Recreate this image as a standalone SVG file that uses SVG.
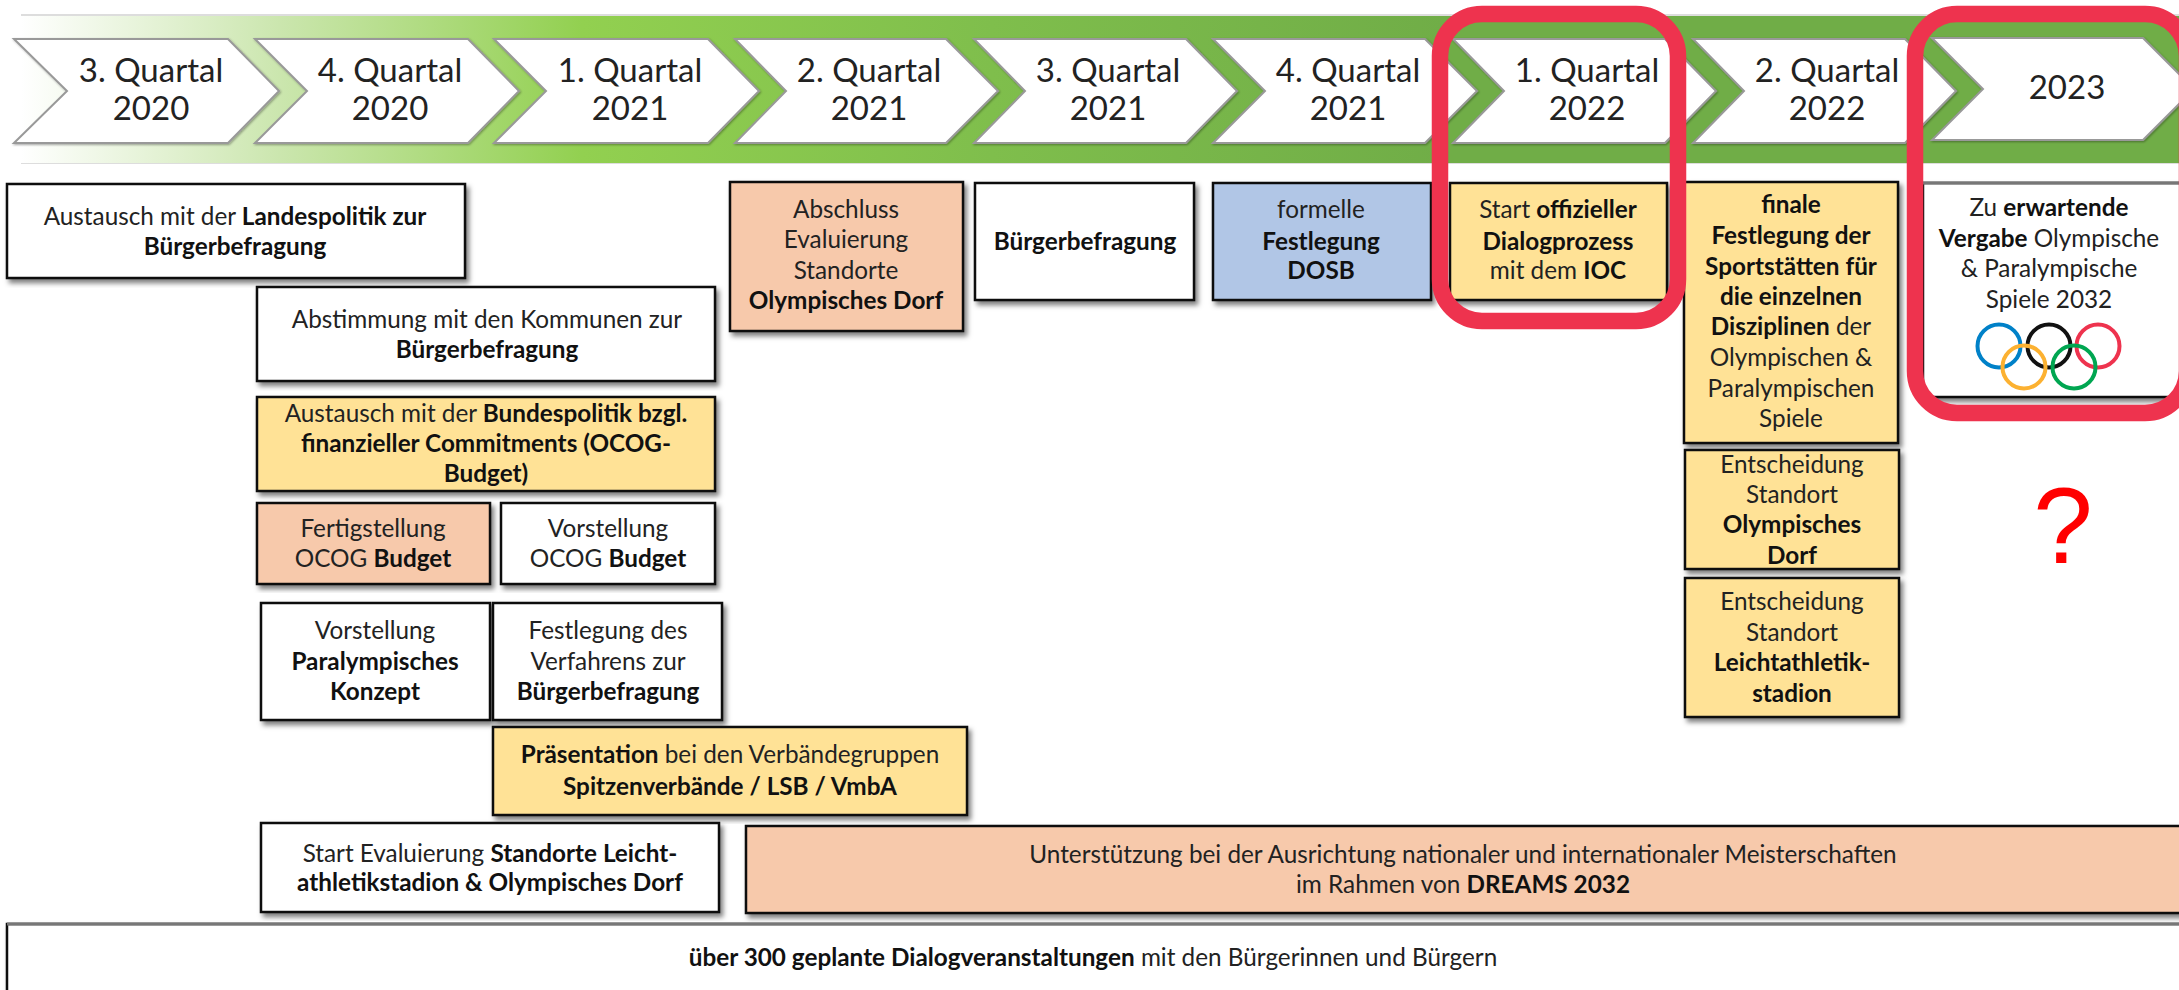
<svg xmlns="http://www.w3.org/2000/svg" width="2179" height="990" viewBox="0 0 2179 990">
<style>
text{font-family:"Lato","Liberation Sans",sans-serif;fill:#222;text-anchor:middle;font-size:24.3px}
.b{font-weight:700;fill:#111}
.q{font-size:33px}
.box{stroke:#111;stroke-width:2.5;filter:url(#sh)}
.w{fill:#fff}.y{fill:#FFE296}.o{fill:#F7C9AB}.bl{fill:#B1C6E6}
.ch{fill:#fff;stroke:#999;stroke-width:2;filter:url(#sh2)}
.ring{fill:none;stroke-width:4}
.red{fill:none;stroke:#EE334E;stroke-width:16.5}
.top{stroke:#777;stroke-width:3}
</style>
<defs>
<linearGradient id="band" gradientUnits="userSpaceOnUse" x1="21" y1="0" x2="2179" y2="0">
<stop offset="0" stop-color="#fff"/>
<stop offset="0.12" stop-color="#CBE6AE"/>
<stop offset="0.26" stop-color="#92D050"/>
<stop offset="0.45" stop-color="#7FBE4C"/>
<stop offset="0.66" stop-color="#70AD47"/>
<stop offset="1" stop-color="#70AD47"/>
</linearGradient>
<filter id="sh" x="-5%" y="-5%" width="112%" height="115%"><feDropShadow dx="3" dy="4" stdDeviation="2.5" flood-color="#000" flood-opacity=".5"/></filter>
<filter id="sh2" x="-5%" y="-5%" width="110%" height="110%"><feDropShadow dx="1" dy="1" stdDeviation="1.2" flood-color="#000" flood-opacity=".35"/></filter>
</defs>
<rect id="band-shadow" x="21" y="14" width="2158" height="150" fill="#bbb" opacity=".5"/>
<rect id="band-bar" x="21" y="16" width="2158" height="147" fill="url(#band)"/>
<g id="chevrons">
<g id="q3-2020"><polygon class="ch" points="14,39 228,39 279,91 228,143 14,143 67,91"/><text class="q" x="151" y="82">3. Quartal</text><text class="q" x="151" y="120">2020</text></g>
<g id="q4-2020"><polygon class="ch" points="255,39 468,39 519,91 468,143 255,143 307,91"/><text class="q" x="390" y="82">4. Quartal</text><text class="q" x="390" y="120">2020</text></g>
<g id="q1-2021"><polygon class="ch" points="494,39 708,39 759,91 708,143 494,143 546,91"/><text class="q" x="630" y="82">1. Quartal</text><text class="q" x="630" y="120">2021</text></g>
<g id="q2-2021"><polygon class="ch" points="735,39 946,39 998,91 946,143 735,143 786,91"/><text class="q" x="869" y="82">2. Quartal</text><text class="q" x="869" y="120">2021</text></g>
<g id="q3-2021"><polygon class="ch" points="974,39 1186,39 1237,91 1186,143 974,143 1025,91"/><text class="q" x="1108" y="82">3. Quartal</text><text class="q" x="1108" y="120">2021</text></g>
<g id="q4-2021"><polygon class="ch" points="1213,39 1425,39 1477,91 1425,143 1213,143 1265,91"/><text class="q" x="1348" y="82">4. Quartal</text><text class="q" x="1348" y="120">2021</text></g>
<g id="q1-2022"><polygon class="ch" points="1453,39 1665,39 1716,91 1665,143 1453,143 1504,91"/><text class="q" x="1587" y="82">1. Quartal</text><text class="q" x="1587" y="120">2022</text></g>
<g id="q2-2022"><polygon class="ch" points="1693,39 1905,39 1956,91 1905,143 1693,143 1744,91"/><text class="q" x="1827" y="82">2. Quartal</text><text class="q" x="1827" y="120">2022</text></g>
<g id="y-2023"><polygon class="ch" points="1932,38 2143,38 2194,89 2143,140 1932,140 1983,89"/><text class="q" x="2067" y="99">2023</text></g>
</g>
<g id="n-landespolitik"><rect class="box w" x="7" y="184" width="458" height="94"/><text x="235" y="225">Austausch mit der <tspan class="b">Landespolitik zur</tspan></text><text x="235" y="255" class="b">Bürgerbefragung</text></g>
<g id="n-kommunen"><rect class="box w" x="257" y="287" width="458" height="94"/><text x="487" y="328">Abstimmung mit den Kommunen zur</text><text x="487" y="358" class="b">Bürgerbefragung</text></g>
<g id="n-bundespolitik"><rect class="box y" x="257" y="397" width="458" height="94"/><text x="486" y="422">Austausch mit der <tspan class="b">Bundespolitik bzgl.</tspan></text><text x="486" y="452" class="b">finanzieller Commitments (OCOG-</text><text x="486" y="482" class="b">Budget)</text></g>
<g id="n-fertigstellung"><rect class="box o" x="257" y="503" width="233" height="81"/><text x="373" y="537">Fertigstellung</text><text x="373" y="567">OCOG <tspan class="b">Budget</tspan></text></g>
<g id="n-vorstellung-budget"><rect class="box w" x="501" y="503" width="214" height="81"/><text x="608" y="537">Vorstellung</text><text x="608" y="567">OCOG <tspan class="b">Budget</tspan></text></g>
<g id="n-paralympisch"><rect class="box w" x="261" y="603" width="229" height="117"/><text x="375" y="639">Vorstellung</text><text x="375" y="670" class="b">Paralympisches</text><text x="375" y="700" class="b">Konzept</text></g>
<g id="n-verfahren"><rect class="box w" x="493" y="603" width="229" height="117"/><text x="608" y="639">Festlegung des</text><text x="608" y="670">Verfahrens zur</text><text x="608" y="700" class="b">Bürgerbefragung</text></g>
<g id="n-praesentation"><rect class="box y" x="493" y="727" width="474" height="88"/><text x="730" y="763"><tspan class="b">Präsentation</tspan> bei den Verbändegruppen</text><text x="730" y="795" class="b">Spitzenverbände / LSB / VmbA</text></g>
<g id="n-evaluierung"><rect class="box w" x="261" y="823" width="458" height="89"/><text x="490" y="862">Start Evaluierung <tspan class="b">Standorte Leicht-</tspan></text><text x="490" y="891" class="b">athletikstadion &amp; Olympisches Dorf</text></g>
<g id="n-dialog"><rect class="box w" x="7" y="924" width="2200" height="90"/><line class="top" x1="7" y1="924" x2="2179" y2="924"/><text x="1093" y="966"><tspan class="b">über 300 geplante Dialogveranstaltungen</tspan> mit den Bürgerinnen und Bürgern</text></g>
<g id="n-dreams"><rect class="box o" x="746" y="826" width="1460" height="87"/><text x="1463" y="863">Unterstützung bei der Ausrichtung nationaler und internationaler Meisterschaften</text><text x="1463" y="893">im Rahmen von <tspan class="b">DREAMS 2032</tspan></text></g>
<g id="n-abschluss"><rect class="box o" x="730" y="182" width="233" height="149"/><text x="846" y="218">Abschluss</text><text x="846" y="248">Evaluierung</text><text x="846" y="279">Standorte</text><text x="846" y="309" class="b">Olympisches Dorf</text></g>
<g id="n-befragung"><rect class="box w" x="975" y="183" width="219" height="117"/><text x="1085" y="250" class="b">Bürgerbefragung</text></g>
<g id="n-dosb"><rect class="box bl" x="1213" y="183" width="218" height="117"/><text x="1321" y="218">formelle</text><text x="1321" y="250" class="b">Festlegung</text><text x="1321" y="279" class="b">DOSB</text></g>
<g id="n-ioc"><rect class="box y" x="1450" y="183" width="217" height="117"/><text x="1558" y="218">Start <tspan class="b">offizieller</tspan></text><text x="1558" y="250" class="b">Dialogprozess</text><text x="1558" y="279">mit dem <tspan class="b">IOC</tspan></text></g>
<g id="n-finale"><rect class="box y" x="1684" y="182" width="214" height="261"/><text x="1791" y="213" class="b">finale</text><text x="1791" y="244" class="b">Festlegung der</text><text x="1791" y="275" class="b">Sportstätten für</text><text x="1791" y="305" class="b">die einzelnen</text><text x="1791" y="335"><tspan class="b">Disziplinen</tspan> der</text><text x="1791" y="366">Olympischen &amp;</text><text x="1791" y="397">Paralympischen</text><text x="1791" y="427">Spiele</text></g>
<g id="n-dorf"><rect class="box y" x="1685" y="450" width="214" height="119"/><text x="1792" y="473">Entscheidung</text><text x="1792" y="503">Standort</text><text x="1792" y="533" class="b">Olympisches</text><text x="1792" y="564" class="b">Dorf</text></g>
<g id="n-stadion"><rect class="box y" x="1685" y="578" width="214" height="139"/><text x="1792" y="610">Entscheidung</text><text x="1792" y="641">Standort</text><text x="1792" y="671" class="b">Leichtathletik-</text><text x="1792" y="702" class="b">stadion</text></g>
<g id="n-vergabe"><rect class="box w" x="1923" y="183" width="280" height="214"/><line class="top" x1="1923" y1="183" x2="2179" y2="183"/><text x="2049" y="216">Zu <tspan class="b">erwartende</tspan></text><text x="2049" y="247"><tspan class="b">Vergabe</tspan> Olympische</text><text x="2049" y="277">&amp; Paralympische</text><text x="2049" y="308">Spiele 2032</text>
<g id="rings"><circle class="ring" cx="1999" cy="346" r="21.5" stroke="#0081C8"/><circle class="ring" cx="2049" cy="346" r="21.5" stroke="#111"/><circle class="ring" cx="2098" cy="346" r="21.5" stroke="#EE334E"/><circle class="ring" cx="2024" cy="367" r="21.5" stroke="#FCB131"/><circle class="ring" cx="2074" cy="367" r="21.5" stroke="#00A651"/></g></g>
<g id="highlights"><rect class="red" x="1440" y="14" width="238" height="307" rx="42"/><rect class="red" x="1915" y="14" width="272" height="399" rx="42"/></g>
<text id="question" x="2063" y="563" style="font-family:'Liberation Sans',sans-serif;font-size:107px;fill:#f00">?</text>
</svg>
